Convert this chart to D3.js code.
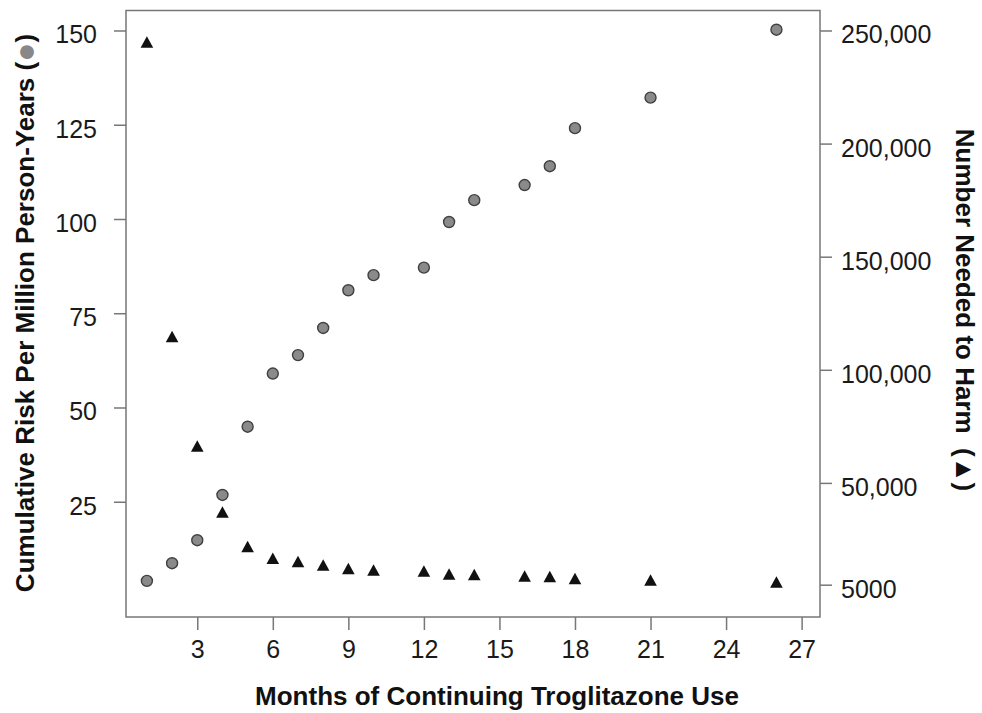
<!DOCTYPE html>
<html>
<head>
<meta charset="utf-8">
<script src="https://cdn.jsdelivr.net/npm/d3@7"></script>
<style>
body { margin: 0; background: #fff; }
.tick text { font: 25px "Liberation Sans", Arial, sans-serif; fill: #1a1a1a; }
.tick line { stroke: #777; stroke-width: 1.5; }
.title { font: bold 26px "Liberation Sans", Arial, sans-serif; fill: #111; }
</style>
</head>
<body>
<div id="chart"></div>
<script>
// months of continuing use (x axis)
var months = [1, 2, 3, 4, 5, 6, 7, 8, 9, 10, 12, 13, 14, 16, 17, 18, 21, 26];
// cumulative risk per million person-years (circles, left axis)
var risk = [4, 8.7, 14.8, 26.8, 44.9, 59, 63.9, 71.1, 81.1, 85.1, 87.1, 99.2, 105, 109, 114, 124.1, 132.2, 150.2];
// number needed to harm (triangles, right axis)
var nnh = [244600, 114400, 66000, 36800, 21500, 16400, 14900, 13400, 11800, 11200, 10700, 9400, 9150, 8550, 8250, 7400, 6750, 5900];

var xTicks = [3, 6, 9, 12, 15, 18, 21, 24, 27];
var leftTicks = [25, 50, 75, 100, 125, 150];
var rightTicks = [5000, 50000, 100000, 150000, 200000, 250000];

var W = 982, H = 713;
var margin = {top: 10.5, right: 162, bottom: 96, left: 126};
var w = W - margin.left - margin.right,
    h = H - margin.top - margin.bottom;

var svg = d3.select("#chart").append("svg")
    .attr("width", W)
    .attr("height", H);

var g = svg.append("g")
    .attr("transform", "translate(" + margin.left + "," + margin.top + ")");

var x = d3.scaleLinear().domain([0.17, 27.73]).range([0, w]);
var yL = d3.scaleLinear().domain([-5.57, 155.3]).range([h, 0]);
var yR = d3.scaleLinear().domain([-9283, 258833]).range([h, 0]);

// axes
var fmtR = function(d) { return d >= 10000 ? d3.format(",")(d) : d3.format("d")(d); };

var ax = g.append("g")
    .attr("transform", "translate(0," + h + ")")
    .call(d3.axisBottom(x).tickValues(xTicks).tickSize(13).tickPadding(10));
var al = g.append("g")
    .call(d3.axisLeft(yL).tickValues(leftTicks).tickSize(12).tickPadding(17));
var ar = g.append("g")
    .attr("transform", "translate(" + w + ",0)")
    .call(d3.axisRight(yR).tickValues(rightTicks).tickFormat(fmtR).tickSize(12).tickPadding(9));

[ax, al, ar].forEach(function(a) { a.select(".domain").remove(); });
al.selectAll("text").attr("dy", "0.5em");
ar.selectAll("text").attr("dy", "0.5em");

// frame
g.append("rect")
    .attr("width", w)
    .attr("height", h)
    .attr("fill", "none")
    .attr("stroke", "#777")
    .attr("stroke-width", 1.5);

var rows = months.map(function(m, i) { return {m: m, risk: risk[i], nnh: nnh[i]}; });

// circles
g.selectAll(".dot")
    .data(rows)
    .enter().append("circle")
    .attr("class", "dot")
    .attr("cx", function(d) { return x(d.m); })
    .attr("cy", function(d) { return yL(d.risk); })
    .attr("r", 5.5)
    .attr("fill", "#8a8a8a")
    .attr("stroke", "#404040")
    .attr("stroke-width", 1.4);

// triangles
g.selectAll(".tri")
    .data(rows)
    .enter().append("path")
    .attr("class", "tri")
    .attr("d", "M0,-6.5L6.3,5L-6.3,5Z")
    .attr("transform", function(d) { return "translate(" + x(d.m) + "," + yR(d.nnh) + ")"; })
    .attr("fill", "#111");

// titles
svg.append("text")
    .attr("class", "title")
    .attr("x", 497)
    .attr("y", 705)
    .attr("text-anchor", "middle")
    .text("Months of Continuing Troglitazone Use");

var lt = svg.append("text")
    .attr("class", "title")
    .attr("text-anchor", "middle")
    .attr("transform", "translate(34,313) rotate(-90)");
lt.append("tspan").text("Cumulative Risk Per Million Person-Years (");
lt.append("tspan").attr("fill", "#888").attr("dy", 2).style("font-size", "32px").text("\u25CF");
lt.append("tspan").attr("dy", -2).text(")");

var rt = svg.append("text")
    .attr("class", "title")
    .attr("text-anchor", "middle")
    .attr("xml:space", "preserve")
    .style("white-space", "pre")
    .attr("transform", "translate(956,310) rotate(90)");
rt.append("tspan").text("Number Needed to Harm  (");
rt.append("tspan").style("font-size", "26px").text("\u25B2");
rt.append("tspan").text(")");
</script>
</body>
</html>
